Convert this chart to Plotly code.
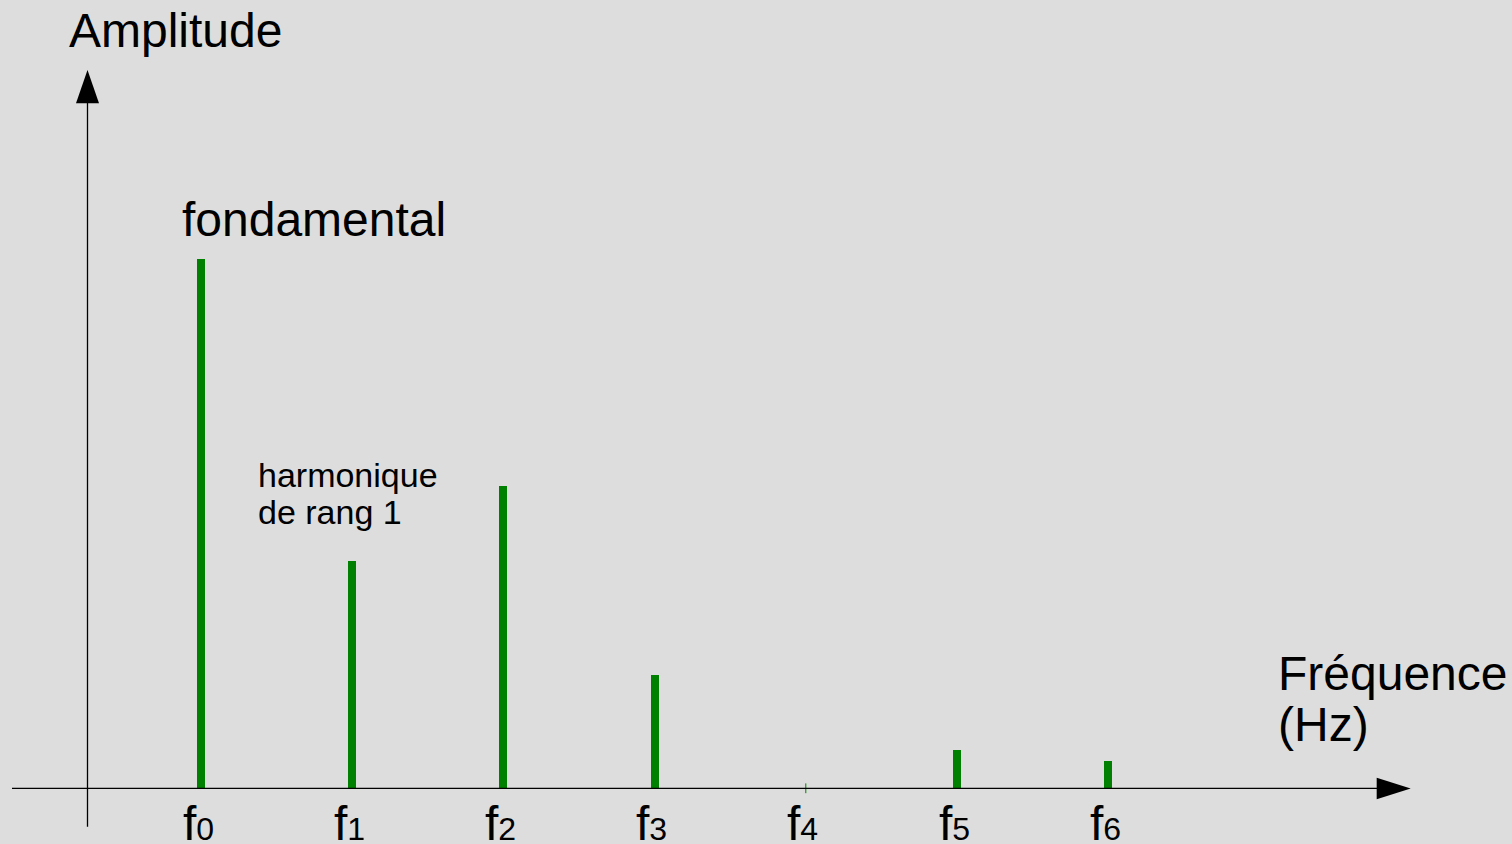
import plotly.graph_objects as go

# ---- data ----
harmonic_index = [0, 1, 2, 3, 4, 5, 6]
tick_names = ["f", "f", "f", "f", "f", "f", "f"]
tick_subscripts = ["0", "1", "2", "3", "4", "5", "6"]
amplitudes = [1.0, 0.429, 0.571, 0.214, 0.0, 0.072, 0.051]

# ---- geometry (pixel mapping of the canvas) ----
W, H = 1512, 844
X0_PX, DX_PX = 201.0, 151.2     # pixel of f0, pixels per harmonic step
Y0_PX, DY_PX = 788.3, 529.0     # pixel of zero amplitude, pixels per unit amplitude


def px_x(px):
    return (px - X0_PX) / DX_PX


def px_y(py):
    return (Y0_PX - py) / DY_PX


GREEN = "#008000"
FONT = "Liberation Sans, Arial, sans-serif"

fig = go.Figure()

fig.add_trace(go.Bar(
    x=harmonic_index, y=amplitudes, width=8 / DX_PX,
    marker=dict(color=GREEN, line=dict(width=0)),
    hoverinfo="skip", showlegend=False,
))

zero_x = [h for h, a in zip(harmonic_index, amplitudes) if a == 0]
fig.add_trace(go.Scatter(
    x=zero_x, y=[0] * len(zero_x), mode="markers",
    marker=dict(symbol="line-ns", size=7, line=dict(width=1, color=GREEN)),
    hoverinfo="skip", showlegend=False,
))

shapes = [
    # x axis
    dict(type="line", xref="x", yref="y", x0=px_x(12), x1=px_x(1378), y0=0, y1=0,
         line=dict(color="black", width=1.3)),
    dict(type="path", xref="x", yref="y",
         path=f"M {px_x(1376.7)} {px_y(777.7)} L {px_x(1410.7)} {px_y(788.5)} L {px_x(1376.7)} {px_y(799.3)} Z",
         fillcolor="black", line=dict(width=0)),
    # y axis
    dict(type="line", xref="x", yref="y", x0=px_x(87.5), x1=px_x(87.5), y0=px_y(826.7), y1=px_y(102),
         line=dict(color="black", width=1.3)),
    dict(type="path", xref="x", yref="y",
         path=f"M {px_x(76)} {px_y(103.3)} L {px_x(87.5)} {px_y(70)} L {px_x(99)} {px_y(103.3)} Z",
         fillcolor="black", line=dict(width=0)),
]


def text_ann(txt, left_px, center_py, size):
    return dict(text=txt, xref="paper", yref="paper", x=left_px / W, y=1 - center_py / H,
                xanchor="left", yanchor="middle", showarrow=False,
                font=dict(family=FONT, size=size, color="black"))


annotations = [
    text_ann("Amplitude", 67, 30.4, 48),
    text_ann("fondamental", 180, 219.4, 48),
    text_ann("harmonique", 256, 475.2, 34),
    text_ann("de rang 1", 256, 512.2, 34),
    text_ann("Fréquence", 1276, 673.4, 48),
    text_ann("(Hz)", 1276, 724.4, 48),
]

for h, name, sub in zip(harmonic_index, tick_names, tick_subscripts):
    annotations.append(dict(
        text=f"{name}<span style='font-size:32px'>{sub}</span>",
        xref="x", yref="paper", x=h, y=1 - 823.4 / H,
        xanchor="center", yanchor="middle", xshift=-3, showarrow=False,
        font=dict(family=FONT, size=48, color="black"),
    ))

fig.update_layout(
    width=W, height=H, autosize=False,
    margin=dict(l=0, r=0, t=0, b=0, pad=0),
    paper_bgcolor="#DDDDDD", plot_bgcolor="#DDDDDD",
    xaxis=dict(range=[px_x(0), px_x(W)], visible=False, showgrid=False, zeroline=False, fixedrange=True),
    yaxis=dict(range=[px_y(H), px_y(0)], visible=False, showgrid=False, zeroline=False, fixedrange=True),
    shapes=shapes, annotations=annotations, bargap=0,
)

fig.write_html(
    "out.html",
    config={"displayModeBar": False},
    post_script="document.body.style.margin='0';document.body.style.overflow='hidden';"
                "document.body.style.background='#DDDDDD';",
)
